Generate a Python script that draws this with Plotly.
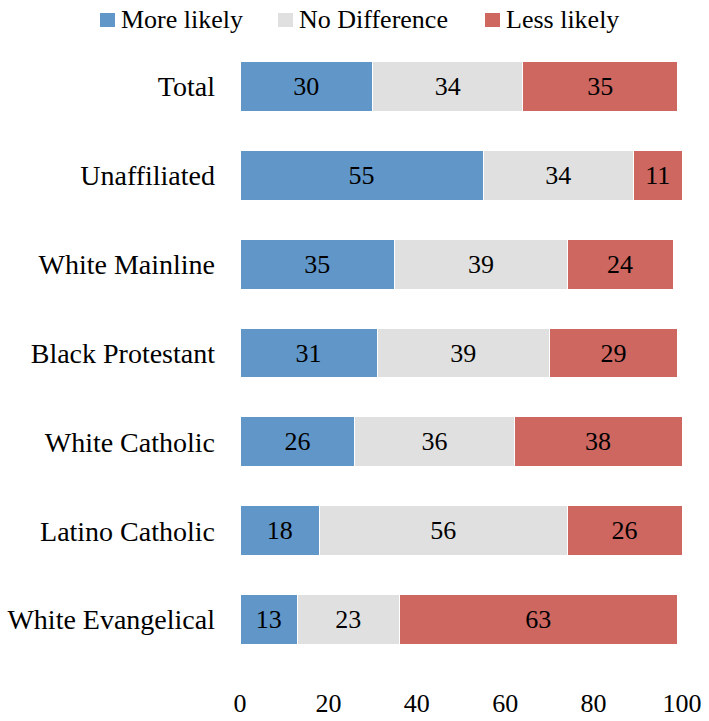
import plotly.graph_objects as go

categories = ["Total", "Unaffiliated", "White Mainline", "Black Protestant",
              "White Catholic", "Latino Catholic", "White Evangelical"]
more_likely = [30, 55, 35, 31, 26, 18, 13]
no_difference = [34, 34, 39, 39, 36, 56, 23]
less_likely = [35, 11, 24, 29, 38, 26, 63]
x_ticks = [0, 20, 40, 60, 80, 100]
series_names = ["More likely", "No Difference", "Less likely"]

FONT = "Liberation Serif"
colors = ["#6196C8", "#E0E0E0", "#CD6760"]
series_values = [more_likely, no_difference, less_likely]

W, H = 709, 721
ML, MR, MT, MB = 240, 27, 42, 57
PW, PH = W - ML - MR, H - MT - MB


def px_x(px):
    return (px - ML) / PW


def px_y(py):
    return (H - MB - py) / PH


fig = go.Figure()
for name, vals, color in zip(series_names, series_values, colors):
    fig.add_trace(go.Bar(
        name=name, y=categories, x=vals, orientation="h",
        marker=dict(color=color, line=dict(color="white", width=1)),
        text=[str(v) for v in vals], textposition="inside",
        insidetextanchor="middle",
        textfont=dict(family=FONT, size=26, color="black"),
        width=0.56, showlegend=False,
    ))

# legend drawn as squares + labels at the top
legend_sq_left = [100, 278, 485]
shapes, annotations = [], []
for name, color, left in zip(series_names, colors, legend_sq_left):
    shapes.append(dict(type="rect", xref="paper", yref="paper",
                       x0=px_x(left), x1=px_x(left + 15),
                       y0=px_y(27), y1=px_y(13),
                       fillcolor=color, line=dict(width=0)))
    annotations.append(dict(text=name, xref="paper", yref="paper",
                            x=px_x(left + 19), y=px_y(20),
                            xanchor="left", yanchor="middle",
                            showarrow=False,
                            font=dict(family=FONT, size=26, color="black")))

fig.update_layout(
    barmode="stack",
    width=W, height=H,
    margin=dict(l=ML, r=MR, t=MT, b=MB, autoexpand=False),
    plot_bgcolor="white", paper_bgcolor="white",
    font=dict(family=FONT, size=26, color="black"),
    shapes=shapes, annotations=annotations,
    xaxis=dict(range=[0, 100], tickvals=x_ticks, showgrid=False,
               zeroline=False, showline=False, ticklabelstandoff=21,
               tickfont=dict(family=FONT, size=26)),
    yaxis=dict(categoryorder="array", categoryarray=categories[::-1],
               showgrid=False, showline=False, ticklabelstandoff=24,
               tickfont=dict(family=FONT, size=28)),
)

fig.write_html("out.html", config={"displayModeBar": False},
               post_script="document.body.style.margin='0';")
